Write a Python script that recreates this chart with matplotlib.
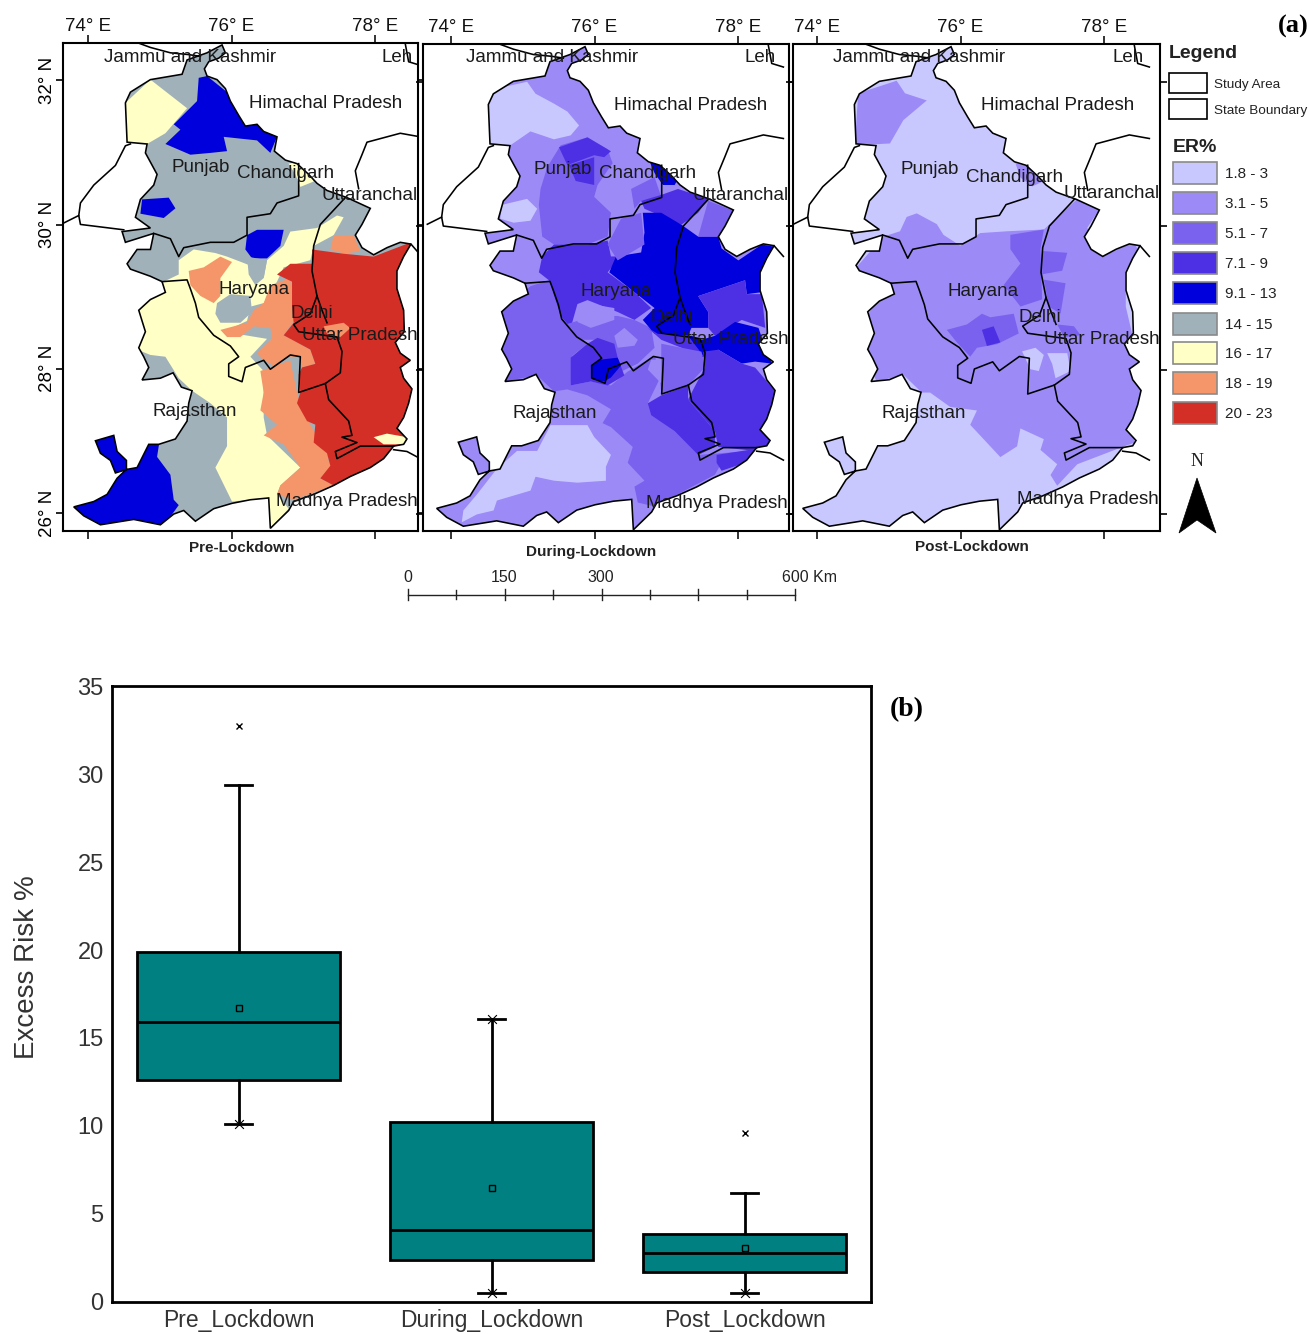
import matplotlib
matplotlib.use('Agg')
from matplotlib import pyplot as plt
from matplotlib.patches import Polygon, Rectangle

W, H = 1309, 1334
plt.rcParams['font.family'] = ['Liberation Sans', 'DejaVu Sans']

# ER% classes
ER_LABELS = ['1.8 - 3', '3.1 - 5', '5.1 - 7', '7.1 - 9', '9.1 - 13', '14 - 15', '16 - 17', '18 - 19', '20 - 23']
ER_COLORS = ['#c8c8ff', '#9c8af7', '#7a62ee', '#4d30e4', '#0000dc', '#a1b1ba', '#ffffc6', '#f4966a', '#d42f26']
C1, C2, C3, C4, C5, GREY, YEL, ORG, RED = range(9)

# map traces. Converted to lon/lat by to_geo()
# calibration: x at 74E, x per degree, y at 26N, y per degree
CAL_PRE = (113, 215.25, 1437, 201.6)
CAL_DUR = (93, 214.0, 1300, 181.5)
CAL_POST = (82, 214.5, 1440, 201.0)

STUDY_AREA = [(515, 128), (525, 150), (505, 165), (475, 175), (462, 195), (470, 215), (500, 225), (525, 250),
              (540, 285), (565, 325), (585, 355), (620, 350), (640, 370), (680, 385), (672, 425), (705, 450),
              (740, 460), (775, 490), (800, 515), (830, 535), (890, 555), (960, 585), (935, 630), (915, 660),
              (935, 695), (970, 715), (1010, 695), (1050, 680), (1082, 685), (1060, 720), (1040, 760),
              (1040, 810), (1060, 870), (1062, 930), (1035, 960), (1050, 990), (1080, 1010), (1050, 1030),
              (1060, 1060), (1085, 1090), (1075, 1130), (1060, 1170), (1040, 1200), (1070, 1230), (1060, 1245),
              (1030, 1250), (1000, 1285), (960, 1310), (900, 1335), (850, 1360), (790, 1385), (730, 1405),
              (715, 1430), (660, 1480), (655, 1395), (600, 1400), (545, 1410), (490, 1425), (435, 1460),
              (400, 1430), (370, 1440), (330, 1470), (250, 1455), (150, 1470), (100, 1445), (70, 1420),
              (130, 1405), (170, 1385), (200, 1340), (228, 1315), (228, 1290), (200, 1265), (190, 1220),
              (135, 1235), (150, 1270), (180, 1290), (195, 1325), (230, 1315), (260, 1310), (295, 1245),
              (325, 1245), (375, 1230), (410, 1180), (415, 1130), (425, 1095), (393, 1085), (368, 1045),
              (330, 1060), (275, 1065), (295, 1030), (280, 1000), (265, 975), (285, 930), (265, 870),
              (300, 840), (345, 820), (335, 790), (300, 775), (240, 755), (230, 740), (260, 700), (300, 700),
              (310, 655), (225, 680), (215, 650), (300, 640), (255, 610), (270, 560), (310, 520), (320, 490),
              (285, 430), (290, 405), (230, 400), (225, 290), (240, 260), (300, 225), (395, 210), (410, 170),
              (470, 150)]

STATE_LINES = [
    [(745, 460), (745, 550), (680, 570), (660, 600), (590, 610), (590, 660), (550, 680), (480, 680),
     (400, 695), (385, 720), (360, 670), (310, 655)],
    [(335, 790), (410, 785), (420, 810), (435, 850), (445, 890), (490, 940), (540, 970), (565, 1000),
     (535, 1020), (535, 1055), (575, 1070), (585, 1030), (640, 1010), (660, 1035), (720, 995), (750, 1000),
     (745, 1100), (825, 1075), (870, 1045), (875, 985), (860, 945), (745, 930), (730, 910), (780, 880),
     (800, 830), (785, 760), (790, 690), (810, 630), (885, 555)],
    [(800, 830), (815, 870), (830, 905)],
    [(825, 1075), (835, 1120), (895, 1180), (905, 1220), (875, 1225), (920, 1240), (855, 1265), (860, 1285),
     (930, 1250), (1030, 1250)],
]
OUTER_LINES = [
    [(240, 405), (225, 410), (195, 465), (130, 520), (90, 570), (85, 605)],
    [(42, 625), (85, 605), (90, 630), (220, 645)],
    [(925, 530), (915, 480), (935, 435), (950, 400), (1050, 375), (1110, 385)],
    [(262, 122), (300, 135), (360, 150), (415, 155), (450, 160)],
    [(1065, 125), (1075, 175), (1110, 185)],
    [(1082, 685), (1110, 715)],
    [(1030, 1260), (1070, 1265), (1110, 1285)],
]

PRE_BASE = GREY
PRE_REGIONS = [
    (YEL, [(225, 290), (300, 225), (410, 305), (345, 375), (290, 405), (225, 405)]),
    (C5, [(445, 220), (470, 215), (530, 260), (580, 350), (620, 345), (680, 385), (660, 430), (620, 395),
          (570, 390), (520, 385), (530, 425), (480, 430), (420, 435), (345, 405), (390, 365), (370, 350),
          (440, 285)]),
    (C5, [(275, 560), (355, 555), (375, 585), (340, 612), (270, 600)]),
    (C5, [(590, 660), (620, 645), (700, 645), (690, 690), (650, 725), (605, 725), (585, 700)]),
    (C5, [(60, 1430), (100, 1200), (330, 1220), (320, 1280), (360, 1330), (370, 1400), (385, 1415), (335, 1480),
          (100, 1480)]),
    (YEL, [(715, 460), (745, 455), (780, 490), (790, 510), (750, 525), (735, 490)]),
    (YEL, [(265, 870), (340, 790), (385, 770), (385, 730), (430, 700), (495, 710), (530, 720), (600, 745),
           (640, 780), (650, 730), (700, 690), (720, 650), (800, 640), (860, 605), (880, 610), (850, 660),
           (790, 690), (780, 730), (700, 750), (680, 790), (640, 850), (600, 860), (590, 900), (520, 930),
           (650, 950), (600, 1000), (640, 1040), (640, 1100), (640, 1170), (650, 1220), (750, 1310),
           (690, 1360), (680, 1385), (715, 1425), (660, 1480), (655, 1395), (545, 1405), (495, 1310),
           (530, 1250), (530, 1170), (480, 1130), (425, 1095), (385, 1060), (345, 1000), (300, 995), (260, 980)]),
    (GREY, [(500, 850), (540, 825), (600, 830), (605, 875), (570, 905), (510, 905), (495, 880)]),
    (GREY, [(590, 720), (650, 730), (640, 780), (615, 800), (595, 770)]),
    (ORG, [(415, 760), (460, 750), (510, 720), (545, 735), (510, 780), (510, 830), (490, 850), (450, 830),
           (420, 800)]),
    (ORG, [(510, 925), (590, 905), (610, 870), (640, 850), (660, 800), (720, 780), (730, 900), (700, 940),
           (780, 980), (795, 1020), (755, 1030), (745, 1000), (710, 1000), (680, 1030), (640, 1010), (620, 990),
           (665, 950), (660, 920), (610, 915), (570, 945), (530, 945)]),
    (ORG, [(630, 1040), (720, 1010), (740, 1100), (750, 1130), (780, 1190), (830, 1270), (840, 1310), (810, 1340),
           (850, 1360), (730, 1400), (680, 1385), (690, 1360), (750, 1310), (700, 1245), (640, 1220), (680, 1190),
           (630, 1150), (640, 1100)]),
    (ORG, [(850, 660), (910, 660), (930, 705), (880, 712), (840, 700)]),
    (RED, [(785, 700), (880, 712), (970, 720), (1082, 680), (1100, 900), (1100, 1300), (960, 1320), (850, 1360),
           (810, 1340), (840, 1305), (830, 1270), (790, 1240), (795, 1190), (770, 1180), (740, 1130), (750, 1100),
           (745, 1050), (755, 1030), (795, 1020), (780, 980), (700, 940), (730, 905), (790, 870), (790, 760)]),
    (RED, [(680, 770), (720, 740), (790, 740), (800, 830), (790, 880), (730, 905), (725, 860), (725, 790)]),
    (YEL, [(970, 1225), (1010, 1215), (1070, 1225), (1060, 1245), (1000, 1245)]),
    (ORG, [(820, 915), (880, 905), (900, 920), (870, 945), (830, 935)]),
]

DUR_BASE = C2
DUR_REGIONS = [
    (C1, [(200, 260), (240, 225), (320, 210), (345, 240), (400, 265), (440, 285), (475, 320), (450, 345),
          (400, 355), (330, 335), (270, 370), (210, 375)]),
    (C1, [(245, 520), (320, 505), (350, 530), (330, 560), (280, 565), (240, 555)]),
    (C1, [(130, 1290), (170, 1250), (230, 1185), (290, 1140), (350, 1140), (390, 1075), (500, 1075), (520, 1105),
          (570, 1150), (555, 1180), (555, 1215), (470, 1220), (400, 1215), (345, 1205), (330, 1240), (230, 1265),
          (220, 1290), (170, 1300), (125, 1320)]),
    (C3, [(380, 425), (420, 370), (500, 350), (560, 380), (575, 415), (530, 470), (520, 500), (570, 540),
          (560, 600), (500, 620), (400, 620), (365, 600), (355, 520), (360, 480)]),
    (C3, [(630, 480), (700, 450), (720, 500), (660, 510), (640, 530)]),
    (C3, [(235, 890), (240, 790), (330, 725), (385, 710), (420, 800), (450, 830), (500, 870), (455, 900),
          (450, 975), (510, 965), (570, 975), (620, 940), (700, 900), (720, 950), (680, 1020), (720, 1020),
          (800, 1060), (860, 1090), (880, 1130), (830, 1150), (990, 1140), (900, 1170), (880, 1200), (700, 1280),
          (650, 1270), (640, 1230), (670, 1215), (620, 1170), (635, 1130), (570, 1080), (545, 1070), (570, 1035),
          (500, 1000), (440, 985), (400, 990), (350, 950), (250, 965)]),
    (C4, [(365, 650), (400, 620), (500, 620), (560, 610), (570, 650), (600, 650), (560, 690), (640, 740),
          (690, 780), (640, 810), (590, 790), (500, 760), (470, 770), (450, 830), (420, 800), (385, 710),
          (355, 690)]),
    (C3, [(440, 820), (520, 800), (590, 800), (640, 810), (690, 830), (700, 880), (650, 920), (600, 940),
          (520, 860), (480, 860)]),
    (C2, [(470, 780), (510, 770), (580, 780), (580, 810), (510, 830), (470, 815)]),
    (C2, [(580, 850), (610, 830), (650, 860), (640, 875), (590, 880)]),
    (C4, [(450, 905), (500, 870), (530, 855), (580, 870), (590, 905), (610, 950), (560, 975), (510, 965), (450, 975)]),
    (C5, [(510, 925), (540, 910), (590, 905), (600, 925), (570, 955), (550, 965), (515, 960)]),
    (C4, [(720, 495), (770, 480), (860, 505), (830, 540), (780, 570), (670, 530), (660, 510)]),
    (C5, [(685, 410), (720, 415), (770, 455), (760, 470), (725, 470), (700, 440)]),
    (C5, [(665, 540), (720, 540), (780, 570), (830, 600), (890, 600), (900, 630), (950, 660), (1020, 620),
          (1055, 625), (1020, 680), (1020, 740), (975, 745), (970, 710), (900, 730), (830, 750), (860, 790),
          (860, 830), (810, 830), (800, 850), (700, 845), (665, 810), (700, 780), (640, 740), (565, 690),
          (585, 650), (660, 640), (670, 590)]),
    (C4, [(830, 750), (900, 730), (970, 710), (975, 745), (1020, 745), (1030, 830), (960, 810), (880, 850),
          (860, 830), (860, 790)]),
    (C5, [(770, 855), (810, 850), (840, 860), (880, 850), (940, 815), (1010, 830), (1030, 880), (1050, 920),
          (1000, 915), (960, 920), (890, 885), (840, 905), (780, 875)]),
    (C4, [(845, 890), (890, 885), (960, 920), (1000, 930), (1060, 990), (1050, 1130), (1000, 1140), (890, 1130),
          (880, 1090), (800, 1010), (850, 930)]),
    (C4, [(885, 1150), (1000, 1135), (970, 1170), (900, 1190), (885, 1170)]),
    (C4, [(680, 1020), (720, 1000), (800, 975), (800, 1010), (880, 1090), (880, 1130), (830, 1150), (760, 1090),
          (690, 1050)]),
    (C4, [(680, 830), (710, 845), (800, 850), (850, 905), (780, 880), (720, 860)]),
    (C3, [(720, 870), (840, 890), (850, 930), (800, 975), (720, 995), (715, 950), (720, 900)]),
    (C2, [(690, 910), (720, 910), (720, 970), (680, 935)]),
    (C3, [(860, 510), (935, 535), (890, 600), (830, 600), (850, 540)]),
    (C3, [(560, 620), (600, 555), (660, 540), (670, 620), (590, 660)]),
    (C4, [(445, 420), (520, 400), (520, 470), (465, 460)]),
    (C4, [(415, 375), (500, 350), (570, 385), (550, 400), (520, 395), (440, 420)]),
]

POST_BASE = C1
POST_REGIONS = [
    (C2, [(195, 410), (205, 265), (320, 230), (345, 265), (410, 285), (340, 340), (300, 405)]),
    (C2, [(200, 750), (280, 665), (330, 650), (350, 610), (380, 600), (440, 630), (460, 660), (510, 690),
          (570, 655), (650, 650), (760, 645), (860, 560), (925, 590), (890, 640), (910, 690), (960, 710),
          (1030, 680), (1040, 700), (1005, 760), (1005, 860), (1040, 1000), (1050, 1100), (1030, 1240),
          (1000, 1250), (860, 1300), (800, 1360), (780, 1330), (800, 1300), (750, 1260), (760, 1230),
          (690, 1200), (680, 1250), (630, 1280), (540, 1190), (560, 1150), (480, 1140), (420, 1100),
          (395, 1100), (340, 1050), (260, 1070), (225, 990), (235, 880), (300, 800), (200, 770)]),
    (C1, [(695, 985), (735, 975), (760, 995), (745, 1040), (720, 1035)]),
    (C1, [(770, 990), (830, 990), (840, 1040), (795, 1060), (785, 1020)]),
    (C3, [(660, 660), (760, 645), (750, 700), (755, 840), (690, 860), (640, 800), (690, 740), (660, 700)]),
    (C3, [(755, 705), (830, 710), (815, 760), (755, 770)]),
    (C3, [(760, 785), (825, 795), (810, 880), (775, 860)]),
    (C3, [(800, 910), (850, 915), (870, 940), (820, 945)]),
    (C3, [(470, 925), (530, 910), (575, 880), (600, 890), (670, 880), (685, 935), (620, 965), (560, 975),
          (540, 1000), (500, 960)]),
    (C4, [(575, 925), (610, 915), (630, 960), (590, 970)]),
    (C2, [(675, 460), (715, 470), (760, 510), (725, 525), (690, 500)]),
]

PLACES = ['Jammu and Kashmir', 'Leh', 'Himachal Pradesh', 'Punjab', 'Chandigarh', 'Uttaranchal', 'Haryana', 'Delhi',
          'Uttar Pradesh', 'Rajasthan', 'Madhya Pradesh']
PLACE_PRE = [(190, 57), (397, 57), (326, 104), (201, 168), (286, 174), (370, 195), (254, 290), (312, 314), (360, 335),
             (195, 412), (347, 502)]
PLACE_DUR = [(552, 57), (760, 57), (691, 105), (563, 170), (648, 174), (741, 195), (616, 292), (672, 318), (731, 340),
             (555, 413), (717, 503)]
PLACE_POST = [(919, 57), (1128, 57), (1058, 105), (930, 170), (1015, 177), (1112, 193), (983, 291), (1040, 318),
              (1102, 340), (924, 413), (1088, 500)]

# box plot values
BOX_LABELS = ['Pre_Lockdown', 'During_Lockdown', 'Post_Lockdown']
WHISK_LO = [10.1, 0.5, 0.5]
Q1 = [12.6, 2.4, 1.7]
MEDIAN = [15.9, 4.1, 2.8]
Q3 = [19.9, 10.2, 3.85]
WHISK_HI = [29.4, 16.1, 6.2]
MEAN = [16.7, 6.5, 3.05]
OUTLIERS = [[32.7], [], [9.6]]


def to_geo(pts, cal):
    x74, sx, y26, sy = cal
    return [(74 + (x - x74) / sx, 26 + (y26 - y) / sy) for x, y in pts]


def axes_px(x0, y0, x1, y1):
    return fig.add_axes([x0 / W, 1 - y1 / H, (x1 - x0) / W, (y1 - y0) / H])


def draw_map(box, xlim, ylim, base, regions, cal, title, title_xy, places, ylabels=False):
    ax = axes_px(*box)
    study = Polygon(to_geo(STUDY_AREA, CAL_PRE), closed=True, fc=ER_COLORS[base], ec='none')
    ax.add_patch(study)
    for cls, pts in regions:
        p = Polygon(to_geo(pts, cal), closed=True, fc=ER_COLORS[cls], ec='none')
        ax.add_patch(p)
        p.set_clip_path(study)
    ax.add_patch(Polygon(to_geo(STUDY_AREA, CAL_PRE), closed=True, fc='none', ec='black', lw=1.15))
    for line in STATE_LINES + OUTER_LINES:
        g = to_geo(line, CAL_PRE)
        ax.plot([a[0] for a in g], [a[1] for a in g], color='black', lw=1.15)
    ax.set_xlim(*xlim)
    ax.set_ylim(*ylim)
    ax.set_xticks([74, 76, 78])
    ax.set_yticks([26, 28, 30, 32])
    ax.set_xticklabels(['74° E', '76° E', '78° E'], fontsize=13.5)
    ax.tick_params(axis='x', top=True, bottom=True, labeltop=True, labelbottom=False, length=6, width=1.2, pad=0,
                   colors='#111111')
    ax.tick_params(axis='y', left=True, right=True, length=5, width=1.2, labelleft=ylabels, pad=0)
    if ylabels:
        ax.set_yticklabels(['26° N', '28° N', '30° N', '32° N'], rotation=90, va='center', fontsize=13.5)
    for s in ax.spines.values():
        s.set_linewidth(1.5)
    over.text(title_xy[0], title_xy[1], title, fontsize=11, fontweight='bold', ha='center', va='center',
              color='#222222')
    for name, (x, y) in zip(places, PLACE_TXT[title]):
        over.text(x, y, name, fontsize=13.5, ha='center', va='center', color='#1a1a1a', zorder=5)


PLACE_TXT = {'Pre-Lockdown': PLACE_PRE, 'During-Lockdown': PLACE_DUR, 'Post-Lockdown': PLACE_POST}

fig = plt.figure(figsize=(W / 100, H / 100), dpi=100)

# full figure overlay in pixels for labels, legend and scale bar
over = fig.add_axes([0, 0, 1, 1], zorder=10)
over.set_xlim(0, W)
over.set_ylim(H, 0)
over.axis('off')
over.patch.set_alpha(0)

draw_map((63, 43, 418, 531), (73.65, 78.60), (25.75, 32.52), PRE_BASE, PRE_REGIONS, CAL_PRE,
         'Pre-Lockdown', (242, 548), PLACES, ylabels=True)
draw_map((423, 44, 789, 531), (73.61, 78.71), (25.77, 32.53), DUR_BASE, DUR_REGIONS, CAL_DUR,
         'During-Lockdown', (591, 552), PLACES)
draw_map((793, 44, 1160, 531), (73.665, 78.78), (25.77, 32.53), POST_BASE, POST_REGIONS, CAL_POST,
         'Post-Lockdown', (972, 547), PLACES)

# legend
over.text(1169, 54, 'Legend', fontsize=14, fontweight='bold', va='center', color='#222222')
for y, name in zip([73, 99], ['Study Area', 'State Boundary']):
    over.add_patch(Rectangle((1169, y), 38, 20, fc='white', ec='black', lw=1.2))
    over.text(1214, y + 12, name, fontsize=9.7, va='center', color='#222222')
over.text(1173, 147, 'ER%', fontsize=14, fontweight='bold', va='center', color='#222222')
for y, name, col in zip([173, 203, 233, 263, 293, 324, 353, 383, 413], ER_LABELS, ER_COLORS):
    over.add_patch(Rectangle((1173, y - 11), 44, 22, fc=col, ec='#8a8a8a', lw=1.2))
    over.text(1225, y + 1, name, fontsize=11, va='center', color='#222222')

# north arrow
over.text(1197, 462, 'N', fontsize=13, family='Liberation Serif', ha='center', va='center', color='#222222')
over.add_patch(Polygon([(1197, 478), (1179, 533), (1197, 520), (1216, 533)], closed=True, fc='black', ec='black', lw=0.5))

# scale bar
over.plot([408, 795], [595, 595], color='#222222', lw=1)
for i in range(9):
    x = 408 + i * 48.4
    h = 6 if i % 2 == 0 else 5
    over.plot([x, x], [595 - h, 595 + h - 1], color='#222222', lw=1)
for x, s in zip([408, 504, 601], ['0', '150', '300']):
    over.text(x, 578, s, fontsize=11.5, ha='center', va='center', color='#222222')
over.text(782, 578, '600 Km', fontsize=11.5, ha='left', va='center', color='#222222')

# panel letters
over.text(1293, 26, '(a)', fontsize=19, fontweight='bold', family='Liberation Serif', ha='center', va='center')
over.text(907, 710, '(b)', fontsize=20, fontweight='bold', family='Liberation Serif', ha='center', va='center')

# box plot
ax = axes_px(112, 686, 871, 1302)
stats = []
for i, name in enumerate(BOX_LABELS):
    stats.append(dict(label=name, whislo=WHISK_LO[i], q1=Q1[i], med=MEDIAN[i], q3=Q3[i], whishi=WHISK_HI[i],
                      mean=MEAN[i], fliers=OUTLIERS[i]))
ax.bxp(stats, positions=[1, 2, 3], widths=0.8, patch_artist=True, showmeans=True, showfliers=True,
       boxprops=dict(facecolor='#008080', edgecolor='black', linewidth=2),
       medianprops=dict(color='black', linewidth=2),
       whiskerprops=dict(color='black', linewidth=2),
       capprops=dict(color='black', linewidth=2), capwidths=0.105,
       meanprops=dict(marker='s', markersize=5, markerfacecolor='none', markeredgecolor='black', markeredgewidth=1),
       flierprops=dict(marker='x', markersize=5, markeredgecolor='black', markeredgewidth=1))
ax.scatter([1, 2, 2, 3], [WHISK_LO[0], WHISK_HI[1], WHISK_LO[1], WHISK_LO[2]], marker='x', s=40, color='black', lw=0.8,
           zorder=5)
ax.set_xlim(0.5, 3.5)
ax.set_ylim(0, 35)
ax.set_yticks(range(0, 36, 5))
ax.tick_params(axis='y', length=0, labelsize=17, labelcolor='#333333', pad=6)
ax.tick_params(axis='x', length=0, labelsize=16.5, labelcolor='#333333', pad=5)
ax.set_ylabel('Excess Risk %', fontsize=20, color='#333333')
ax.yaxis.set_label_coords(-0.095, 0.544)
for s in ax.spines.values():
    s.set_linewidth(2)

plt.savefig('out.png', dpi=100)
